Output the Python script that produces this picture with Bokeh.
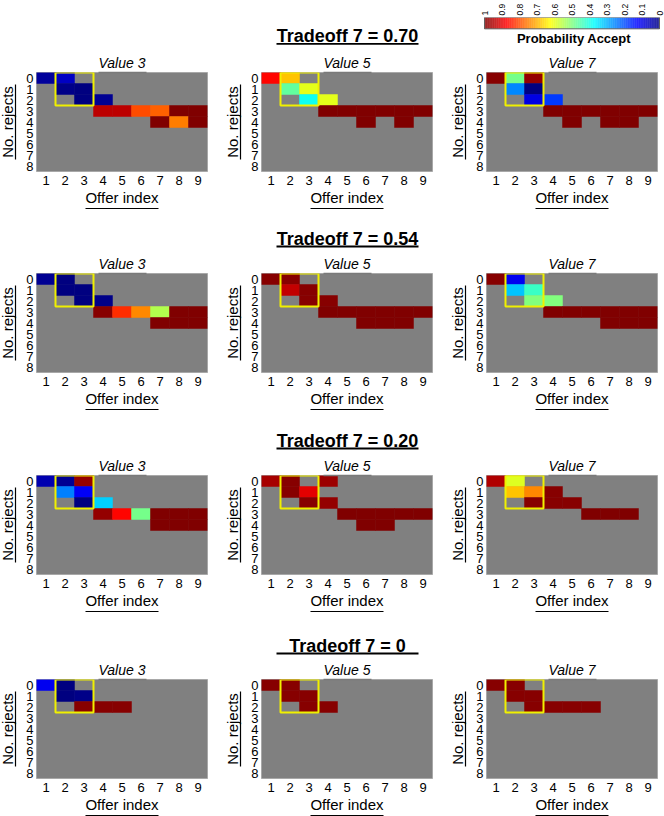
import numpy as np
from bokeh.plotting import figure
from bokeh.models import (Range1d, LinearColorMapper, FixedTicker, LinearAxis,
                          BoxAnnotation, Label, ColumnDataSource)
from bokeh.layouts import column, row
from bokeh.embed import file_html
from bokeh.resources import INLINE
from bokeh.transform import transform

# ---------------- data ----------------
OFFER_INDEX = [1, 2, 3, 4, 5, 6, 7, 8, 9]
NO_REJECTS = [0, 1, 2, 3, 4, 5, 6, 7, 8]
VALUES = [3, 5, 7]
TRADEOFF_LABELS = ["0.70", "0.54", "0.20", "0"]
HIGHLIGHT_COLS = [2, 3]
HIGHLIGHT_ROWS = [0, 2]
COLORBAR_TICKS = [1, 0.9, 0.8, 0.7, 0.6, 0.5, 0.4, 0.3, 0.2, 0.1, 0]

# (offer index, no. rejects, probability accept)
T070_V3 = [(1, 0, 0.03), (2, 0, 0.07), (2, 1, 0.01), (3, 1, 0.0), (3, 2, 0.0), (4, 2, 0.02),
           (4, 3, 0.94), (5, 3, 0.94), (6, 3, 0.80), (7, 3, 0.78), (8, 3, 1.0), (9, 3, 1.0),
           (7, 4, 1.0), (8, 4, 0.75), (9, 4, 1.0)]
T070_V5 = [(1, 0, 0.87), (2, 0, 0.68), (2, 1, 0.47), (3, 1, 0.60), (3, 2, 0.39), (4, 2, 0.60),
           (4, 3, 1.0), (5, 3, 1.0), (6, 3, 1.0), (7, 3, 1.0), (8, 3, 1.0), (9, 3, 1.0),
           (6, 4, 1.0), (8, 4, 1.0)]
T070_V7 = [(1, 0, 0.99), (2, 0, 0.49), (3, 0, 0.98), (2, 1, 0.26), (3, 1, 0.0), (3, 2, 0.10),
           (4, 2, 0.18), (4, 3, 1.0), (5, 3, 1.0), (6, 3, 1.0), (7, 3, 1.0), (8, 3, 1.0),
           (9, 3, 1.0), (5, 4, 1.0), (7, 4, 1.0), (8, 4, 1.0)]

T054_V3 = [(1, 0, 0.02), (2, 0, 0.0), (2, 1, 0.0), (3, 1, 0.0), (3, 2, 0.0), (4, 2, 0.01),
           (4, 3, 0.99), (5, 3, 0.83), (6, 3, 0.74), (7, 3, 0.55), (8, 3, 1.0), (9, 3, 1.0),
           (7, 4, 1.0), (8, 4, 1.0), (9, 4, 1.0)]
T054_V5 = [(1, 0, 0.99), (2, 0, 0.99), (2, 1, 0.93), (3, 1, 0.99), (3, 2, 0.99), (4, 2, 0.99),
           (4, 3, 1.0), (5, 3, 1.0), (6, 3, 1.0), (7, 3, 1.0), (8, 3, 1.0), (9, 3, 1.0),
           (6, 4, 1.0), (7, 4, 1.0), (8, 4, 1.0)]
T054_V7 = [(1, 0, 0.99), (2, 0, 0.11), (2, 1, 0.32), (3, 1, 0.43), (3, 2, 0.50), (4, 2, 0.50),
           (4, 3, 1.0), (5, 3, 1.0), (6, 3, 1.0), (7, 3, 1.0), (8, 3, 1.0), (9, 3, 1.0),
           (7, 4, 1.0), (8, 4, 1.0), (9, 4, 1.0)]

T020_V3 = [(1, 0, 0.05), (2, 0, 0.02), (3, 0, 0.98), (2, 1, 0.25), (3, 1, 0.12), (3, 2, 0.0),
           (4, 2, 0.33), (4, 3, 0.98), (5, 3, 0.87), (6, 3, 0.49), (7, 3, 1.0), (8, 3, 1.0),
           (9, 3, 1.0), (7, 4, 1.0), (8, 4, 1.0), (9, 4, 1.0)]
T020_V5 = [(1, 0, 0.96), (2, 0, 0.99), (4, 0, 0.97), (2, 1, 0.99), (3, 1, 0.90), (3, 2, 0.99),
           (4, 2, 0.98), (5, 3, 1.0), (6, 3, 1.0), (7, 3, 1.0), (8, 3, 1.0), (9, 3, 1.0),
           (6, 4, 1.0), (7, 4, 1.0)]
T020_V7 = [(1, 0, 0.95), (2, 0, 0.59), (2, 1, 0.68), (3, 1, 0.74), (4, 1, 0.99), (3, 2, 0.99),
           (4, 2, 0.99), (5, 2, 0.99), (6, 3, 1.0), (7, 3, 1.0), (8, 3, 1.0)]

T000_V3 = [(1, 0, 0.11), (2, 0, 0.0), (2, 1, 0.0), (3, 1, 0.01), (3, 2, 0.99), (4, 2, 0.99),
           (5, 2, 0.99)]
T000_V5 = [(1, 0, 0.99), (2, 0, 0.99), (2, 1, 0.99), (3, 1, 0.99), (3, 2, 0.99), (4, 2, 0.99)]
T000_V7 = [(1, 0, 0.99), (2, 0, 0.99), (2, 1, 0.99), (3, 1, 0.99), (3, 2, 0.99), (4, 2, 0.99),
           (5, 2, 0.99), (6, 2, 0.99)]

PANELS = [[T070_V3, T070_V5, T070_V7],
          [T054_V3, T054_V5, T054_V7],
          [T020_V3, T020_V5, T020_V7],
          [T000_V3, T000_V5, T000_V7]]

# ---------------- style / layout ----------------
FONT = "Liberation Sans"


def jet_palette(n):
    x = np.linspace(0, 1, n)
    r = np.clip(1.5 - np.abs(4 * x - 3), 0, 1)
    g = np.clip(1.5 - np.abs(4 * x - 2), 0, 1)
    b = np.clip(1.5 - np.abs(4 * x - 1), 0, 1)
    return ["#%02x%02x%02x" % (int(round(rr * 255)), int(round(gg * 255)), int(round(bb * 255)))
            for rr, gg, bb in zip(r, g, b)]


PALETTE = jet_palette(256)
MAPPER = LinearColorMapper(palette=PALETTE, low=0, high=1)

CELL_W, CELL_H = 19.0, 11.0
FRAME_W, FRAME_H = 171, 99
LEFT_B, TOP_B, BOT_B = 41, 22, 38
ROW_SHIFT = -5                            # panel rows start slightly left of the page edge
FRAME_TOPS = [72, 273, 475, 679]          # page y of each panel row's frame top
TITLE_Y = [35, 238, 440, 645]             # page y of each "Tradeoff" title
WIDTHS = [225, 225, 219]
PAGE_W = 664
TITLE_X = 347
CB_LEFT, CB_RIGHT, CB_TOP, CB_BOT = 484, 659, 15, 27


def bare_axis(**kw):
    ax = LinearAxis(ticker=FixedTicker(ticks=[]), major_tick_line_color=None,
                    minor_tick_line_color=None, major_label_standoff=0,
                    major_tick_out=0, major_tick_in=0, **kw)
    return ax


def make_panel(cells, value, width):
    height = TOP_B + FRAME_H + BOT_B
    p = figure(width=width, height=height,
               x_range=Range1d(0.5, 9.5), y_range=Range1d(8.5, -0.5),
               output_backend="svg", toolbar_location=None, tools="",
               min_border_left=LEFT_B, min_border_right=width - LEFT_B - FRAME_W,
               min_border_top=TOP_B, min_border_bottom=BOT_B,
               title="Value %d" % value)
    p.background_fill_color = "#808080"
    p.border_fill_color = "white"
    p.outline_line_color = "#a8a8a8"
    p.outline_line_width = 1
    p.grid.visible = False

    src = ColumnDataSource(dict(x=[c[0] for c in cells], y=[c[1] for c in cells],
                                prob=[c[2] for c in cells]))
    p.rect("x", "y", 1, 1, source=src, fill_color=transform("prob", MAPPER),
           line_color=transform("prob", MAPPER), line_width=0.5)

    hx = (HIGHLIGHT_COLS[0] + HIGHLIGHT_COLS[1]) / 2
    hy = (HIGHLIGHT_ROWS[0] + HIGHLIGHT_ROWS[1]) / 2
    p.rect(x=[hx], y=[hy], width=HIGHLIGHT_COLS[1] - HIGHLIGHT_COLS[0] + 1,
           height=HIGHLIGHT_ROWS[1] - HIGHLIGHT_ROWS[0] + 1,
           fill_color=None, line_color="#f0f000", line_width=2)

    p.title.align = "center"
    p.title.text_font = FONT
    p.title.text_font_style = "italic"
    p.title.text_font_size = "14px"
    p.title.text_color = "black"
    p.title.standoff = 3

    # main axes: tick labels
    for ax in (p.xaxis[0], p.yaxis[0]):
        ax.axis_line_color = None
        ax.major_tick_line_color = None
        ax.minor_tick_line_color = None
        ax.major_tick_out = 0
        ax.major_tick_in = 0
        ax.major_label_text_font = FONT
        ax.major_label_text_font_size = "13px"
        ax.major_label_text_color = "black"
        ax.axis_label_text_font = FONT
        ax.axis_label_text_font_style = "normal"
        ax.axis_label_text_color = "black"
    p.xaxis.ticker = FixedTicker(ticks=OFFER_INDEX)
    p.yaxis.ticker = FixedTicker(ticks=NO_REJECTS)
    p.xaxis.major_label_standoff = 4
    p.yaxis.major_label_standoff = 3
    p.xaxis.axis_label = "Offer index"
    p.xaxis.axis_label_text_font_size = "15px"
    p.xaxis.axis_label_standoff = 1
    # small spacer between y tick labels and the underlined y label
    p.yaxis.axis_label = " "
    p.yaxis.axis_label_text_font_size = "1px"
    p.yaxis.axis_label_standoff = 4

    # underline of the x label (line of an extra, label-less axis below it)
    p.add_layout(bare_axis(bounds=(5 - 36.5 / CELL_W, 5 + 36.5 / CELL_W),
                           axis_line_color="black", axis_line_width=1.2), "below")
    # underlined y label
    p.add_layout(bare_axis(bounds=(4 - 37.5 / CELL_H, 4 + 37.5 / CELL_H),
                           axis_line_color="black", axis_line_width=1.2,
                           axis_label="No. rejects", axis_label_text_font=FONT,
                           axis_label_text_font_style="normal",
                           axis_label_text_font_size="15px", axis_label_text_color="black",
                           axis_label_standoff=0), "left")
    # underline of the panel title
    p.add_layout(bare_axis(bounds=(5 - 24 / CELL_W, 5 + 24 / CELL_W),
                           axis_line_color="#7a7a7a", axis_line_width=1.5), "above")
    return p


def add_title(h, r):
    h.add_layout(Label(x=TITLE_X, y=TITLE_Y[r], text="Tradeoff 7 = %s" % TRADEOFF_LABELS[r],
                       text_align="center", text_baseline="middle", text_font=FONT,
                       text_font_style="bold", text_font_size="18px", text_color="black"))
    h.add_layout(BoxAnnotation(left=TITLE_X - 71, right=TITLE_X + 71,
                               top=TITLE_Y[r] + 7, bottom=TITLE_Y[r] + 9,
                               fill_color="black", fill_alpha=1, line_color=None))


def make_header(r, top, bottom):
    h = figure(width=PAGE_W, height=bottom - top, x_range=Range1d(0, PAGE_W),
               y_range=Range1d(bottom, top), output_backend="svg", toolbar_location=None,
               tools="", x_axis_location=None, y_axis_location=None, min_border=0)
    h.grid.visible = False
    h.outline_line_color = None
    add_title(h, r)
    return h


def make_first_header(top, bottom):
    # frame starts below the colour-bar tick labels
    h = figure(width=PAGE_W, height=bottom - top, x_range=Range1d(0, PAGE_W),
               y_range=Range1d(bottom, CB_TOP), output_backend="svg", toolbar_location=None,
               tools="", x_axis_location=None, y_axis_location=None,
               min_border_left=0, min_border_right=0, min_border_bottom=0,
               min_border_top=CB_TOP - top)
    h.grid.visible = False
    h.outline_line_color = None
    # colour-bar value scale: 1 at CB_LEFT, 0 at CB_RIGHT
    span = CB_RIGHT - CB_LEFT
    h.extra_x_ranges = {"cb": Range1d(1 + CB_LEFT / span, 1 - (PAGE_W - CB_LEFT) / span)}
    levels = np.linspace(0, 1, 256)
    src = ColumnDataSource(dict(x=levels, v=levels))
    h.rect("x", (CB_TOP + CB_BOT) / 2, 1.0 / 255 * 1.1, CB_BOT - CB_TOP, source=src,
           x_range_name="cb", fill_color=transform("v", MAPPER), line_color=None)
    h.rect(x=[0.5], y=[(CB_TOP + CB_BOT) / 2], width=1, height=CB_BOT - CB_TOP,
           x_range_name="cb", fill_color=None, line_color="#606060", line_width=1)
    cb_axis = LinearAxis(x_range_name="cb", ticker=FixedTicker(ticks=COLORBAR_TICKS),
                         bounds=(0, 1), major_label_orientation=np.pi / 2,
                         major_label_overrides={1: "1", 0: "0"},
                         major_label_text_font=FONT, major_label_text_font_size="8.5px",
                         major_label_text_color="black", major_label_standoff=2,
                         axis_line_color=None, major_tick_line_color=None,
                         major_tick_out=0, major_tick_in=0, minor_tick_line_color=None)
    h.add_layout(cb_axis, "above")
    h.add_layout(Label(x=(CB_LEFT + CB_RIGHT) / 2 + 2, y=37, text="Probability Accept",
                       text_align="center", text_baseline="middle", text_font=FONT,
                       text_font_style="bold", text_font_size="13px", text_color="black"))
    add_title(h, 0)
    return h


items = []
cursor = 0
for r in range(4):
    fig_top = FRAME_TOPS[r] - TOP_B
    if r == 0:
        items.append(make_first_header(cursor, fig_top))
    else:
        items.append(make_header(r, cursor, fig_top))
    panels = [make_panel(PANELS[r][k], VALUES[k], WIDTHS[k]) for k in range(3)]
    items.append(row(*panels, margin=(0, 0, 0, ROW_SHIFT)))
    cursor = fig_top + TOP_B + FRAME_H + BOT_B

layout = column(*items)
open("out.html", "w").write(file_html(layout, INLINE))
